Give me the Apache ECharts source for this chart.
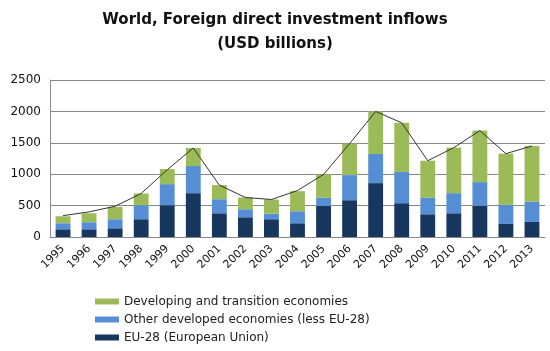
<!DOCTYPE html>
<html>
<head>
<meta charset="utf-8">
<script src="https://cdn.jsdelivr.net/npm/echarts@6/dist/echarts.min.js"></script>
<style>
html,body{margin:0;padding:0;background:#fff;}
#chart{width:550px;height:351px;}
</style>
</head>
<body>
<div id="chart"></div>
<script>
// data
var years = ['1995','1996','1997','1998','1999','2000','2001','2002','2003','2004',
	'2005','2006','2007','2008','2009','2010','2011','2012','2013'];
var eu28 = [123,123,139,283,506,698,378,314,283,219,496,586,858,538,362,378,496,208,240];
var otherDeveloped = [96,112,144,223,336,432,224,128,90,191,128,400,464,496,262,320,378,304,320];
var developing = [111,143,197,187,240,288,224,187,224,320,373,501,677,784,591,725,821,815,890];
var worldTotal = [340,400,490,693,1070,1418,826,629,597,740,997,1487,1999,1818,1215,1423,1695,1327,1450];
var yTicks = [0,500,1000,1500,2000,2500];

var chart = echarts.init(document.getElementById('chart'));
var font = 'DejaVu Sans, Verdana, sans-serif';

chart.setOption({
	animation: false,
	textStyle: { fontFamily: font },
	title: {
		text: 'World, Foreign direct investment inflows\n(USD billions)',
		left: 'center',
		top: 3,
		textStyle: { fontSize: 15, fontWeight: 'bold', color: '#111', lineHeight: 24, fontFamily: font }
	},
	legend: {
		orient: 'vertical',
		left: 95,
		top: 294,
		height: 80,
		padding: 0,
		itemWidth: 24,
		itemHeight: 6,
		itemGap: 3,
		icon: 'rect',
		data: ['Developing and transition economies', 'Other developed economies (less EU-28)', 'EU-28 (European Union)'],
		textStyle: { fontSize: 12, color: '#222', fontFamily: font, lineHeight: 15 }
	},
	grid: { left: 50, right: 5, top: 80, bottom: 114 },
	xAxis: {
		type: 'category',
		data: years,
		axisLine: { lineStyle: { color: '#888' } },
		axisTick: { show: false },
		axisLabel: { rotate: 45, fontSize: 11, color: '#111', margin: 10, interval: 0, fontFamily: font }
	},
	yAxis: {
		type: 'value',
		min: yTicks[0],
		max: yTicks[yTicks.length - 1],
		interval: 500,
		axisLine: { show: true, lineStyle: { color: '#888' } },
		axisTick: { show: false },
		axisLabel: { fontSize: 12, color: '#111', margin: 9, fontFamily: font,
			formatter: function (v) { return String(v); } },
		splitLine: { lineStyle: { color: '#888' } }
	},
	series: [
		{
			name: 'EU-28 (European Union)', type: 'bar', stack: 'fdi',
			barWidth: '57%', itemStyle: { color: '#17375E' }, data: eu28
		},
		{
			name: 'Other developed economies (less EU-28)', type: 'bar', stack: 'fdi',
			itemStyle: { color: '#558ED5' }, data: otherDeveloped
		},
		{
			name: 'Developing and transition economies', type: 'bar', stack: 'fdi',
			itemStyle: { color: '#9BBB59' }, data: developing
		},
		{
			name: 'World', type: 'line', symbol: 'none', z: 5,
			lineStyle: { color: '#333', width: 1 }, data: worldTotal
		}
	]
});
</script>
</body>
</html>
